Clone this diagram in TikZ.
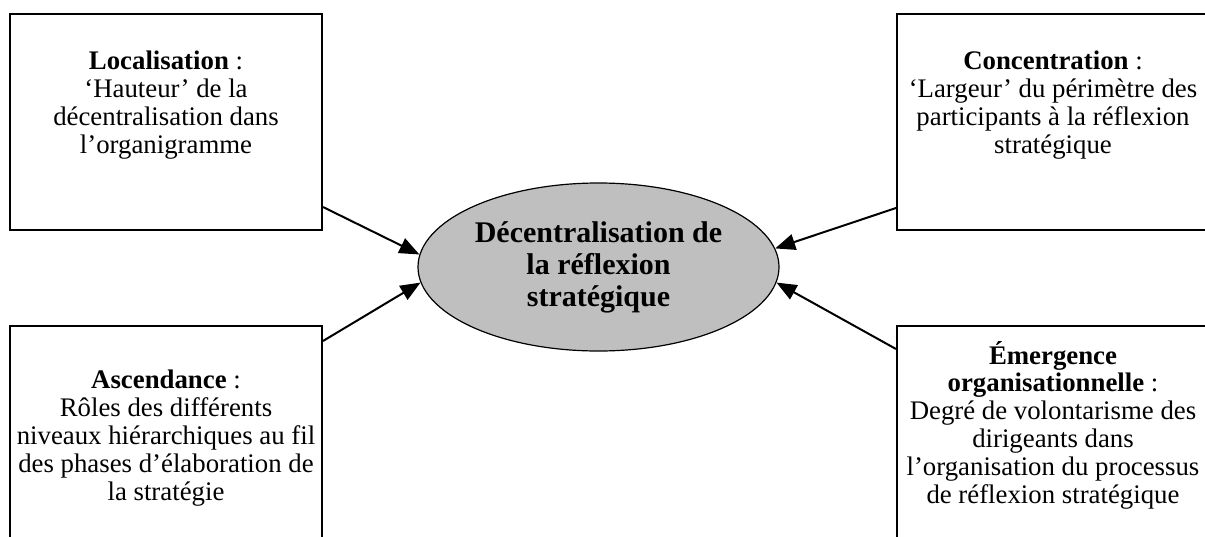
\documentclass[tikz,border=0pt]{standalone}
\usepackage{fontspec}
\setmainfont{Liberation Serif}
\usetikzlibrary{positioning, arrows.meta, calc, shapes.geometric}

\begin{document}
\begin{tikzpicture}[
  x=0.5pt, y=-0.5pt,
  frame/.style={draw=black, line width=1pt, minimum width=156pt, minimum height=108pt, inner sep=0pt},
  txt/.style={align=center, inner sep=0pt, font=\fontsize{13.4}{13.9}\selectfont},
  hub/.style={ellipse, draw=black, line width=0.6pt, fill=black!25, minimum width=180.5pt,
    minimum height=84pt, inner sep=0pt, align=center, font=\fontsize{15}{16}\selectfont\bfseries},
  flow/.style={-{Triangle[length=10pt, width=8pt]}, line width=1pt, draw=black}
]
\clip (0,0) rectangle (1205,536);

% --- the four frames round the hub ---
\node[frame] (loc)  at (166,122)  {};
\node[frame] (conc) at (1053,122) {};
\node[frame] (asc)  at (166,434)  {};
\node[frame] (emer) at (1053,434) {};

% --- their texts ---
\node[txt] (loctxt) at (166,105)
  {\textbf{Localisation} :\\`Hauteur' de la\\décentralisation dans\\l'organigramme};
\node[txt] (conctxt) at (1053,105)
  {\textbf{Concentration} :\\`Largeur' du périmètre des\\participants à la réflexion\\stratégique};
\node[txt] (asctxt) at (166,438)
  {\textbf{Ascendance} :\\Rôles des différents\\niveaux hiérarchiques au fil\\des phases d'élaboration de\\la stratégie};
\node[txt] (emertxt) at (1053,425)
  {\textbf{Émergence}\\\textbf{organisationnelle} :\\Degré de volontarisme des\\dirigeants dans\\l'organisation du processus\\de réflexion stratégique};

% --- the hub ---
\node[hub] (dec) at (598.5,267) {Décentralisation de\\la réflexion\\stratégique};

% each dimension points into the hub
\draw[flow] ([yshift=12pt]loc.south east)    -- (dec.176);
\draw[flow] ([yshift=-8pt]asc.north east)    -- (dec.185);
\draw[flow] ([yshift=11.5pt]conc.south west) -- (dec.6);
\draw[flow] ([yshift=-12pt]emer.north west)  -- (dec.355);

\end{tikzpicture}
\end{document}
